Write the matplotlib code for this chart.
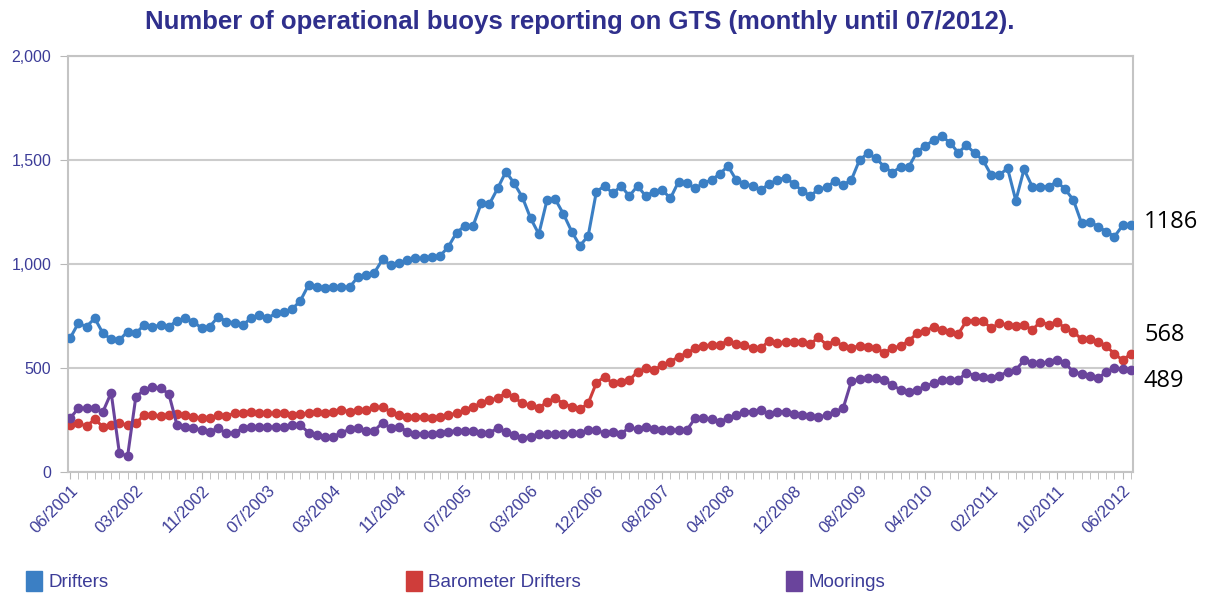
import numpy as np
import matplotlib.pyplot as plt
from matplotlib.patches import Patch

# monthly counts, 130 reports from 06/2001 to 07/2012 (a few months missing)
drifters = [643, 715, 699, 739, 667, 638, 635, 675, 667, 707,
            699, 705, 699, 727, 739, 723, 691, 699, 747, 723,
            718, 707, 739, 755, 739, 763, 771, 783, 823, 899,
            891, 883, 891, 891, 888, 939, 947, 958, 1022, 995,
            1006, 1019, 1027, 1027, 1032, 1039, 1083, 1151, 1183, 1183,
            1292, 1289, 1364, 1444, 1388, 1321, 1220, 1144, 1308, 1311,
            1240, 1156, 1088, 1135, 1348, 1375, 1340, 1375, 1327, 1375,
            1327, 1348, 1356, 1316, 1396, 1388, 1364, 1388, 1404, 1433,
            1471, 1404, 1385, 1375, 1356, 1385, 1404, 1415, 1385, 1353,
            1327, 1359, 1369, 1399, 1380, 1404, 1500, 1532, 1508, 1468,
            1439, 1468, 1468, 1540, 1567, 1596, 1615, 1583, 1535, 1572,
            1532, 1500, 1428, 1428, 1460, 1305, 1455, 1372, 1372, 1372,
            1396, 1359, 1308, 1196, 1204, 1180, 1156, 1132, 1186, 1186]

barometer = [226, 234, 221, 253, 218, 226, 234, 226, 234, 274,
             274, 269, 272, 280, 274, 266, 258, 258, 274, 269,
             282, 282, 290, 282, 282, 282, 282, 274, 280, 282,
             290, 282, 290, 298, 290, 298, 298, 311, 311, 290,
             274, 266, 266, 266, 258, 266, 274, 282, 298, 314,
             330, 346, 354, 381, 359, 330, 322, 306, 338, 354,
             328, 314, 301, 330, 429, 458, 426, 434, 442, 482,
             498, 490, 514, 530, 554, 571, 595, 606, 611, 611,
             631, 614, 611, 595, 595, 631, 619, 627, 627, 627,
             615, 647, 611, 631, 604, 597, 606, 603, 595, 574,
             595, 606, 631, 667, 679, 696, 683, 675, 663, 727,
             727, 727, 691, 715, 707, 702, 707, 683, 723, 707,
             723, 691, 675, 638, 638, 627, 606, 567, 538, 568]

moorings = [258, 306, 306, 306, 290, 381, 90, 77, 362, 394,
            407, 402, 377, 226, 218, 210, 202, 194, 210, 186,
            189, 210, 218, 215, 218, 215, 215, 226, 226, 189,
            178, 170, 170, 189, 205, 210, 199, 199, 237, 210,
            218, 194, 183, 183, 183, 189, 194, 199, 199, 199,
            189, 189, 210, 194, 178, 162, 170, 183, 183, 183,
            183, 186, 186, 202, 202, 186, 194, 183, 215, 205,
            215, 205, 202, 202, 202, 202, 258, 258, 253, 242,
            258, 274, 290, 290, 298, 279, 290, 290, 279, 274,
            269, 263, 274, 290, 306, 436, 446, 450, 450, 442,
            418, 394, 386, 394, 413, 426, 442, 442, 442, 478,
            462, 458, 450, 462, 482, 490, 538, 522, 522, 530,
            538, 522, 482, 471, 462, 450, 482, 498, 494, 489]

tick_labels = ['06/2001', '03/2002', '11/2002', '07/2003', '03/2004', '11/2004',
               '07/2005', '03/2006', '12/2006', '08/2007', '04/2008', '12/2008',
               '08/2009', '04/2010', '02/2011', '10/2011', '06/2012']

names = ['Drifters', 'Barometer Drifters', 'Moorings']
colors = ['#3b7fc4', '#cf3d3a', '#6a449c']
end_labels = ['1186', '568', '489']

txt = '#3c3c98'
plt.rcParams['font.family'] = ['Liberation Sans', 'DejaVu Sans']

fig = plt.figure(figsize=(12.16, 5.95), dpi=100)
ax = fig.add_axes([68/1216, 1 - 472/595, (1133-68)/1216, (472-56)/595])

x = np.arange(len(drifters))
for y, c in zip([drifters, barometer, moorings], colors):
    ax.plot(x, y, color=c, lw=2.2, marker='o', ms=6, mec=c, mfc=c, zorder=3)

ax.set_xlim(-0.25, len(x) - 0.75)
ax.set_ylim(0, 2000)
ax.set_yticks([0, 500, 1000, 1500, 2000])
ax.set_yticklabels(['0', '500', '1,000', '1,500', '2,000'])
ax.set_xticks(x[::8])
ax.set_xticklabels(tick_labels, rotation=45, ha='right', va='top',
                   rotation_mode='anchor')
ax.set_xticks(x, minor=True)
ax.tick_params(axis='x', which='both', length=5, color='#b8b8b8',
               labelsize=12, labelcolor=txt, pad=3)
ax.tick_params(axis='y', length=6, color='#b8b8b8', labelsize=11.5,
               labelcolor=txt, pad=6)
ax.grid(axis='y', color='#cccccc', lw=1.5)
ax.set_axisbelow(True)
for s in ['left', 'bottom', 'right', 'top']:
    ax.spines[s].set_color('#c4c4c4')
    ax.spines[s].set_linewidth(1.5)

fig.text(580/1216, 1 - 22/595,
         'Number of operational buoys reporting on GTS (monthly until 07/2012).',
         ha='center', va='center', fontsize=18.5, fontweight='bold', color='#2f2f8c')

# values written next to the last points
for lab, yy in zip(end_labels, [222, 335, 381]):
    fig.text(1144/1216, 1 - yy/595, lab, ha='left', va='center',
             fontsize=17, color='black', family='Open Sans')

for name, c, lx in zip(names, colors, [18, 398, 778]):
    fig.legend(handles=[Patch(color=c, label=name)], loc='center left',
               bbox_to_anchor=(lx/1216, 1 - 581/595), frameon=False,
               handlelength=0.9, handleheight=1.3, handletextpad=0.3,
               borderaxespad=0, fontsize=13.5, labelcolor=txt)

fig.savefig('out.png', dpi=100)
